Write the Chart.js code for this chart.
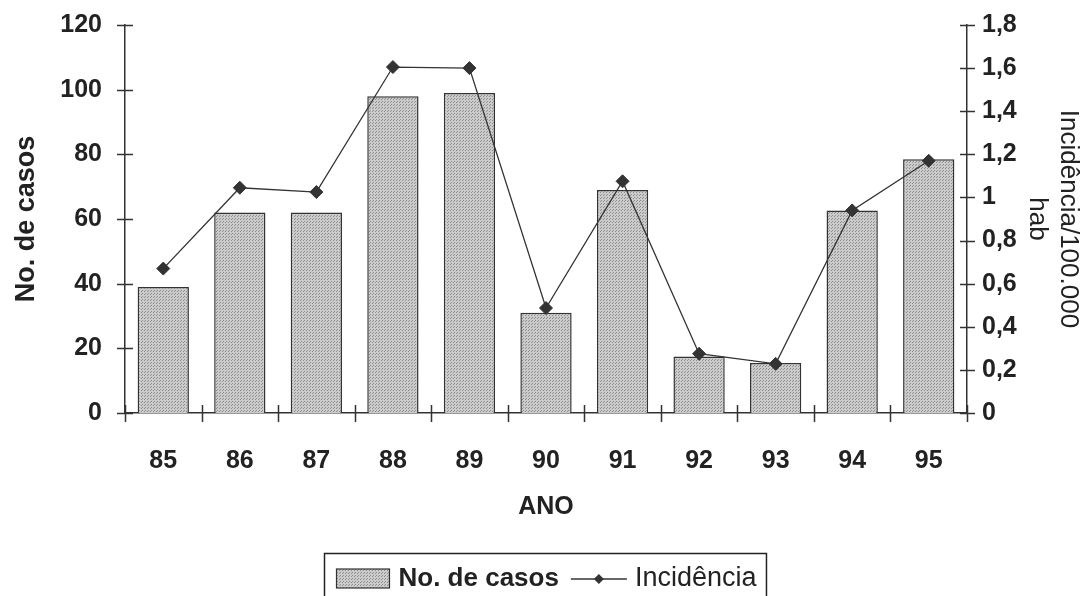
<!DOCTYPE html>
<html>
<head>
<meta charset="utf-8">
<script src="https://cdn.jsdelivr.net/npm/chart.js@4/dist/chart.umd.min.js"></script>
<style>
  html, body { margin: 0; padding: 0; background: #fff; }
  #wrap { width: 1084px; height: 596px; }
</style>
</head>
<body>
<div id="wrap"><canvas id="chart" width="1084" height="596"></canvas></div>
<script>
// data
const anos = ['85', '86', '87', '88', '89', '90', '91', '92', '93', '94', '95'];
const casos = [39, 62, 62, 98, 99, 31, 69, 17.5, 15.5, 62.6, 78.5];
const incidencia = [0.67, 1.045, 1.025, 1.605, 1.6, 0.487, 1.075, 0.275, 0.228, 0.94, 1.17];

const FONT = "'Liberation Sans', Arial, sans-serif";
const INK = '#222';

// dotted grey fill like the scanned bars
function makePattern() {
    const c = document.createElement('canvas');
    c.width = 3; c.height = 3;
    const g = c.getContext('2d');
    g.fillStyle = '#cbcbcb';
    g.fillRect(0, 0, 3, 3);
    g.fillStyle = '#8f8f8f';
    g.fillRect(0, 0, 1, 1);
    g.fillRect(1, 2, 1, 1);
    return g.createPattern(c, 'repeat');
}
const barFill = makePattern();

// tick marks that cross the axis lines
const crossTicks = {
    id: 'crossTicks',
    afterDraw(chart) {
        const ctx = chart.ctx;
        const { x, y, y1 } = chart.scales;
        ctx.save();
        ctx.strokeStyle = '#333';
        ctx.lineWidth = 1.5;
        ctx.beginPath();
        y.ticks.forEach(t => {
            const py = Math.round(y.getPixelForValue(t.value)) + 0.5;
            ctx.moveTo(x.left - 8, py); ctx.lineTo(x.left + 8, py);
        });
        y1.ticks.forEach(t => {
            const py = Math.round(y1.getPixelForValue(t.value)) + 0.5;
            ctx.moveTo(x.right - 7, py); ctx.lineTo(x.right + 8, py);
        });
        const step = x.getPixelForValue(1) - x.getPixelForValue(0);
        for (let i = 0; i <= anos.length; i++) {
            const px = Math.round(x.getPixelForValue(0) - step / 2 + i * step) + 0.5;
            ctx.moveTo(px, y.bottom - 8); ctx.lineTo(px, y.bottom + 9);
        }
        ctx.stroke();
        ctx.restore();
    }
};

// boxed legend under the axis title
const boxLegend = {
    id: 'boxLegend',
    afterDraw(chart) {
        const ctx = chart.ctx;
        const ds = chart.data.datasets;
        ctx.save();
        ctx.textBaseline = 'middle';
        ctx.font = 'bold 26px ' + FONT;
        const w1 = ctx.measureText(ds[1].label).width;
        ctx.font = '27px ' + FONT;
        const w2 = ctx.measureText(ds[0].label).width;
        const total = 12 + 53 + 9 + w1 + 12 + 56 + 8 + w2 + 10;
        const left = Math.round(chart.width / 2 + 3 - total / 2) + 0.5;
        const top = 553.5, h = 46, cy = 579;
        ctx.strokeStyle = INK;
        ctx.lineWidth = 1.5;
        ctx.strokeRect(left, top, total, h);
        let cx = left + 12;
        ctx.fillStyle = barFill;
        ctx.fillRect(cx, cy - 10, 53, 19);
        ctx.strokeStyle = '#333';
        ctx.lineWidth = 1.2;
        ctx.strokeRect(cx, cy - 10, 53, 19);
        cx += 53 + 9;
        ctx.fillStyle = INK;
        ctx.font = 'bold 26px ' + FONT;
        ctx.fillText(ds[1].label, cx, cy);
        cx += w1 + 12;
        ctx.beginPath();
        ctx.moveTo(cx, cy); ctx.lineTo(cx + 56, cy);
        ctx.strokeStyle = '#333';
        ctx.lineWidth = 1.5;
        ctx.stroke();
        ctx.beginPath();
        ctx.moveTo(cx + 28, cy - 5); ctx.lineTo(cx + 33, cy);
        ctx.lineTo(cx + 28, cy + 5); ctx.lineTo(cx + 23, cy);
        ctx.closePath();
        ctx.fillStyle = '#333';
        ctx.fill();
        cx += 56 + 8;
        ctx.fillStyle = INK;
        ctx.font = '27px ' + FONT;
        ctx.fillText(ds[0].label, cx, cy);
        ctx.restore();
    }
};

const fmtComma = v => String(+v.toFixed(1)).replace('.', ',');

function noPad(scale) {
    scale.paddingTop = 0;
    scale.paddingBottom = 0;
}

new Chart(document.getElementById('chart').getContext('2d'), {
    type: 'bar',
    data: {
        labels: anos,
        datasets: [
            {
                type: 'line',
                label: 'Incidência',
                data: incidencia,
                yAxisID: 'y1',
                borderColor: '#333',
                borderWidth: 1.3,
                pointStyle: 'rectRot',
                pointRadius: 6.5,
                pointBackgroundColor: '#333',
                pointBorderColor: '#333',
                pointBorderWidth: 1,
                tension: 0,
                order: 0
            },
            {
                type: 'bar',
                label: 'No. de casos',
                data: casos,
                yAxisID: 'y',
                backgroundColor: barFill,
                borderColor: '#333',
                borderWidth: 1.5,
                barPercentage: 0.67,
                categoryPercentage: 1,
                order: 1
            }
        ]
    },
    options: {
        responsive: false,
        animation: false,
        devicePixelRatio: 1,
        layout: { padding: { top: 25, bottom: 66, left: 0, right: 0 } },
        plugins: {
            legend: { display: false },
            tooltip: { enabled: false }
        },
        scales: {
            x: {
                grid: { display: false, drawTicks: false },
                border: { display: true, color: '#333', width: 1.5 },
                ticks: { color: INK, padding: 33, font: { family: FONT, size: 25, weight: 'bold' } },
                title: {
                    display: true, text: 'ANO', color: INK,
                    padding: { top: 0, bottom: 8 },
                    font: { family: FONT, size: 25, weight: 'bold', lineHeight: 1.2 }
                },
                afterFit(scale) { scale.height = 117; }
            },
            y: {
                position: 'left',
                min: 0, max: 120,
                grid: { display: false, drawTicks: false },
                border: { display: true, color: '#333', width: 1.5 },
                ticks: { stepSize: 20, color: INK, padding: 23, font: { family: FONT, size: 25, weight: 'bold' } },
                title: {
                    display: true, text: 'No. de casos', color: INK,
                    padding: { top: 10, bottom: 0 },
                    font: { family: FONT, size: 27, weight: 'bold', lineHeight: 1.2 }
                },
                afterFit(scale) { scale.width = 125; noPad(scale); }
            },
            y1: {
                position: 'right',
                min: 0, max: 1.8,
                grid: { display: false, drawTicks: false },
                border: { display: true, color: '#333', width: 1.5 },
                ticks: {
                    stepSize: 0.2, color: INK, padding: 15,
                    font: { family: FONT, size: 25, weight: 'bold' },
                    callback: v => fmtComma(v)
                },
                title: {
                    display: true, text: ['Incidência/100.000', 'hab'], color: INK,
                    padding: { top: 0, bottom: 0 },
                    font: { family: FONT, size: 26, lineHeight: 1.2 }
                },
                afterFit(scale) { scale.width = 117; noPad(scale); }
            }
        }
    },
    plugins: [crossTicks, boxLegend]
});
</script>
</body>
</html>
